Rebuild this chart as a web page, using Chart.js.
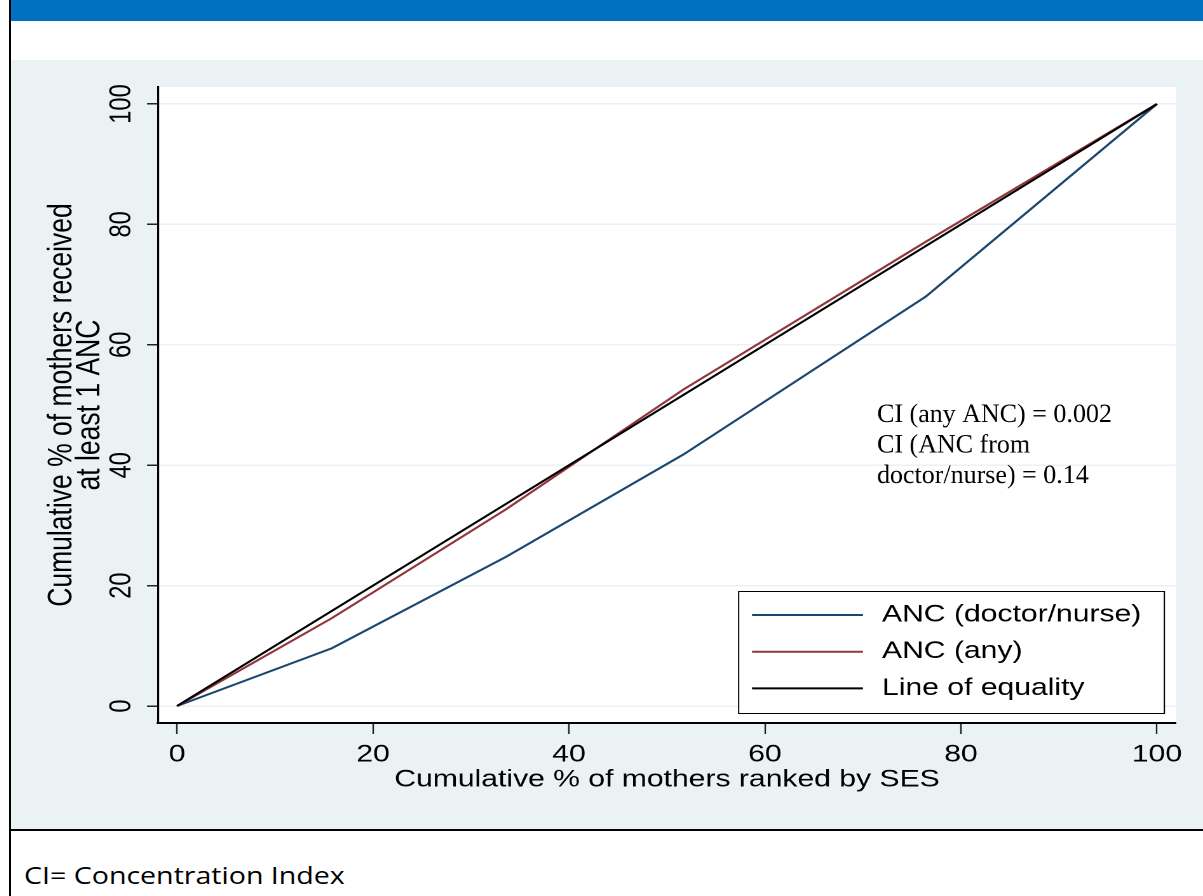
<!DOCTYPE html>
<html>
<head>
<meta charset="utf-8">
<title>Concentration curves for ANC</title>
<script src="https://cdn.jsdelivr.net/npm/chart.js@4.4.1/dist/chart.umd.min.js"></script>
<style>
  html, body { margin: 0; padding: 0; background: #ffffff; width: 1203px; height: 896px; overflow: hidden; }
  #frameLeft { position: absolute; left: 9px; top: 0; width: 2px; height: 896px; background: #000; }
  #banner { position: absolute; left: 11px; top: 0; width: 1192px; height: 21px; background: #0070c0; }
  #panel { position: absolute; left: 11px; top: 60px; width: 1192px; height: 769px; background: #eaf2f3; overflow: hidden; }
  #rule { position: absolute; left: 9px; top: 829px; width: 1194px; height: 2px; background: #000; }
  #note { position: absolute; left: 24px; top: 863px; font-family: "Open Sans", sans-serif; font-size: 24px; line-height: 24px; color: #000; white-space: nowrap; transform: scaleX(1.19); transform-origin: 0 0; }
  /* the graph is shown widened horizontally, as the exported figure is */
  #lorenz { display: block; transform: scaleX(1.2708); transform-origin: 0 0; }
</style>
</head>
<body>
<div id="banner"></div>
<div id="panel"><canvas id="lorenz" width="938" height="769"></canvas></div>
<div id="frameLeft"></div>
<div id="rule"></div>
<div id="note">CI= Concentration Index</div>

<script>
// Cumulative % of mothers ranked by SES (quintile break points)
const rankPoints = [0, 15.8, 33.6, 51.7, 76.4, 100];
// Cumulative % of mothers who received ANC from a doctor/nurse
const ancDoctorNurse = [0, 9.6, 24.8, 41.8, 68.0, 100];
// Cumulative % of mothers who received any ANC
const ancAny = [0, 14.6, 32.7, 52.6, 77.1, 100];
// Diagonal line of equality
const equalityX = [0, 100];
const equalityY = [0, 100];

const seriesNames = ['ANC (doctor/nurse)', 'ANC (any)', 'Line of equality'];
const seriesColors = ['#1a476f', '#90353b', '#000000'];

const xTickValues = [0, 20, 40, 60, 80, 100];
const yTickValues = [0, 20, 40, 60, 80, 100];

const xTitle = 'Cumulative % of mothers ranked by SES';
const yTitle = ['Cumulative % of mothers received', 'at least 1 ANC'];
const ciLines = ['CI (any ANC) = 0.002', 'CI (ANC from', 'doctor/nurse) = 0.14'];

// horizontal widening applied to the canvas element
const WIDEN = 1.2708;

const toPoints = (xs, ys) => xs.map((x, i) => ({ x: x, y: ys[i] }));

const sansFamily = '"Liberation Sans", Arial, sans-serif';
const axisFont = { family: sansFamily, size: 23.7 };

// White plotting region behind grid and lines
const plotBackground = {
  id: 'plotBackground',
  beforeDraw(chart) {
    const { ctx, chartArea: a } = chart;
    ctx.save();
    ctx.fillStyle = '#ffffff';
    ctx.fillRect(a.left, a.top, a.right - a.left, a.bottom - a.top);
    ctx.restore();
  }
};

// Concentration index note, anchored in data space, drawn without the widening
const ciNote = {
  id: 'ciNote',
  afterDatasetsDraw(chart) {
    const { ctx, scales } = chart;
    const x0 = scales.x.getPixelForValue(71.43);
    const y0 = scales.y.getPixelForValue(47.2);
    ctx.save();
    ctx.translate(x0, y0);
    ctx.scale(1 / WIDEN, 1);
    ctx.fillStyle = '#000';
    ctx.font = '26px "Liberation Serif", "Times New Roman", serif';
    ctx.textAlign = 'left';
    ctx.textBaseline = 'alphabetic';
    ciLines.forEach((t, i) => ctx.fillText(t, 0, i * 30.5));
    ctx.restore();
  }
};

// Boxed legend in the lower-right corner of the plot
const boxLegend = {
  id: 'boxLegend',
  afterDraw(chart) {
    const { ctx, chartArea: a } = chart;
    const w = 336, h = 123;
    const left = a.right - 8.6 - w;
    const top = a.bottom - 9 - h;
    ctx.save();
    ctx.fillStyle = '#ffffff';
    ctx.fillRect(left, top, w, h);
    ctx.strokeStyle = '#000';
    ctx.lineWidth = 1;
    ctx.strokeRect(left + 0.5, top + 0.5, w - 1, h - 1);
    const rows = [24, 60.7, 97.4];
    ctx.font = '23.7px ' + sansFamily;
    ctx.textBaseline = 'middle';
    ctx.textAlign = 'left';
    seriesNames.forEach((name, i) => {
      const ds = chart.data.datasets.find(d => d.label === name);
      const y = top + rows[i];
      ctx.strokeStyle = ds.borderColor;
      ctx.lineWidth = 2;
      ctx.beginPath();
      ctx.moveTo(left + 11, y);
      ctx.lineTo(left + 98.3, y);
      ctx.stroke();
      ctx.fillStyle = '#000';
      ctx.fillText(name, left + 113.3, y);
    });
    ctx.restore();
  }
};

new Chart(document.getElementById('lorenz'), {
  type: 'line',
  data: {
    datasets: [
      { label: seriesNames[0], data: toPoints(rankPoints, ancDoctorNurse), borderColor: seriesColors[0], order: 2 },
      { label: seriesNames[1], data: toPoints(rankPoints, ancAny), borderColor: seriesColors[1], order: 1 },
      { label: seriesNames[2], data: toPoints(equalityX, equalityY), borderColor: seriesColors[2], order: 0 }
    ]
  },
  options: {
    responsive: false,
    animation: false,
    devicePixelRatio: 2,
    layout: { padding: { left: 0, right: 21.3, top: 27, bottom: 0 } },
    elements: {
      line: { borderWidth: 2, tension: 0, fill: false },
      point: { radius: 0, hoverRadius: 0 }
    },
    plugins: {
      legend: { display: false },
      tooltip: { enabled: false }
    },
    scales: {
      x: {
        type: 'linear',
        min: -1.94,
        max: 101.94,
        afterBuildTicks: s => { s.ticks = xTickValues.map(v => ({ value: v })); },
        afterFit: s => { s.height = 106; },
        grid: { drawOnChartArea: false, drawTicks: true, tickLength: 11, tickColor: '#222', tickWidth: 1.2 },
        border: { display: true, color: '#000', width: 2 },
        ticks: { font: axisFont, color: '#000', padding: 6.8, maxRotation: 0, minRotation: 0, autoSkip: false },
        title: { display: true, text: xTitle, font: axisFont, color: '#000', padding: { top: 0, bottom: 34.8 } }
      },
      y: {
        type: 'linear',
        min: -2.82,
        max: 102.82,
        afterBuildTicks: s => { s.ticks = yTickValues.map(v => ({ value: v })); },
        afterFit: s => { s.width = 115.7; },
        grid: { color: '#eaf2f3', lineWidth: 1.5, drawTicks: true, tickLength: 8.66, tickColor: '#222', tickWidth: 1.5 },
        border: { display: true, color: '#000', width: 1.6 },
        ticks: { font: axisFont, color: '#000', padding: 0, minRotation: 90, maxRotation: 90, crossAlign: 'center', autoSkip: false },
        title: { display: true, text: yTitle, font: { family: sansFamily, size: 26.5, lineHeight: 0.834 }, color: '#000', padding: { top: 29.1, bottom: 0 } }
      }
    }
  },
  plugins: [plotBackground, ciNote, boxLegend]
});
</script>
</body>
</html>
